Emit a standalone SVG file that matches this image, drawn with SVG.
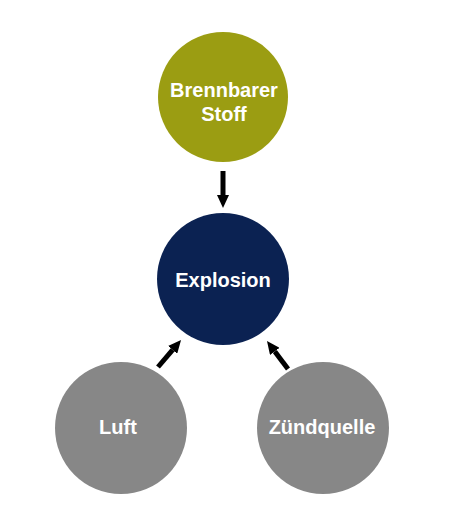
<svg xmlns="http://www.w3.org/2000/svg" width="450" height="529" viewBox="0 0 450 529">
<style>
.lbl{font-family:"Liberation Sans",Arial,sans-serif;font-weight:bold;font-size:20px;fill:#fff;text-anchor:middle}
.con{stroke:#000;stroke-width:5;fill:none}
</style>
<defs>
<marker id="ah" markerWidth="2.6" markerHeight="2.4" refX="0" refY="1.2" orient="auto" markerUnits="strokeWidth">
<path d="M0,0 L2.6,1.2 L0,2.4 Z" fill="#000"/>
</marker>
</defs>
<rect width="450" height="529" fill="#fff"/>
<g id="connectors">
<line class="con" x1="223" y1="171" x2="223" y2="195" marker-end="url(#ah)"/>
<line class="con" x1="158" y1="367" x2="172.6" y2="349.9" marker-end="url(#ah)"/>
<line class="con" x1="288" y1="369" x2="274.8" y2="351.4" marker-end="url(#ah)"/>
</g>
<g id="brennbarer">
<circle cx="223" cy="97" r="65" fill="#9b9d12"/>
<text class="lbl" x="224" y="97">Brennbarer</text>
<text class="lbl" x="224" y="120.5">Stoff</text>
</g>
<g id="explosion">
<circle cx="223" cy="279" r="66" fill="#0b2252"/>
<text class="lbl" x="223" y="287">Explosion</text>
</g>
<g id="luft">
<circle cx="121" cy="428" r="66" fill="#878787"/>
<text class="lbl" x="118" y="434">Luft</text>
</g>
<g id="zuendquelle">
<circle cx="323" cy="428" r="66" fill="#878787"/>
<text class="lbl" x="322" y="434">Zündquelle</text>
</g>
</svg>
